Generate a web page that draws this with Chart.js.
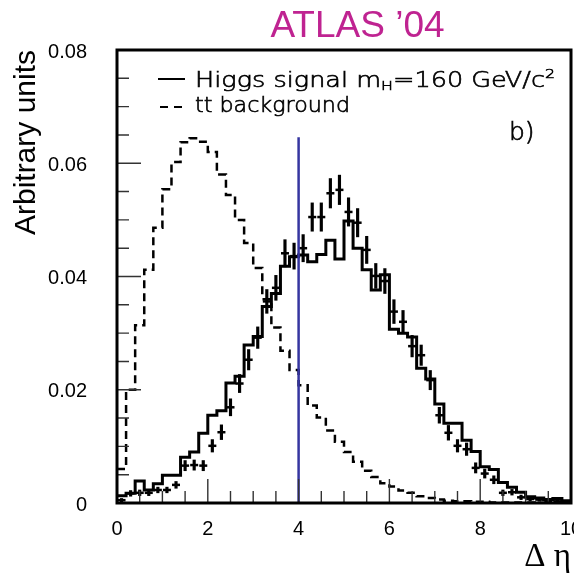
<!DOCTYPE html>
<html>
<head>
<meta charset="utf-8">
<script src="https://cdn.jsdelivr.net/npm/chart.js@4.4.1/dist/chart.umd.min.js"></script>
<style>
html, body { margin: 0; padding: 0; background: #fff; overflow: hidden; }
#wrap { width: 574px; height: 574px; overflow: hidden; }
canvas { display: block; }
</style>
</head>
<body>
<div id="wrap"><canvas id="c" width="600" height="574"></canvas></div>
<script>
// histogram bin edges in delta eta (50 bins of 0.2)
const binEdges = [0, 0.2, 0.4, 0.6, 0.8, 1, 1.2, 1.4, 1.6, 1.8, 2, 2.2, 2.4, 2.6, 2.8, 3, 3.2, 3.4, 3.6, 3.8,
  4, 4.2, 4.4, 4.6, 4.8, 5, 5.2, 5.4, 5.6, 5.8, 6, 6.2, 6.4, 6.6, 6.8, 7, 7.2, 7.4, 7.6, 7.8,
  8, 8.2, 8.4, 8.6, 8.8, 9, 9.2, 9.4, 9.6, 9.8, 10];

// Higgs signal, m_H = 160 GeV (solid histogram)
const signal = [0.0013, 0.0017, 0.0039, 0.0023, 0.0034, 0.0049, 0.0049, 0.0081, 0.0090, 0.0123,
  0.0155, 0.0163, 0.0212, 0.0224, 0.0279, 0.0294, 0.0347, 0.0370, 0.0418, 0.0435,
  0.0438, 0.0426, 0.0439, 0.0464, 0.0431, 0.0498, 0.0450, 0.0412, 0.0376, 0.0403,
  0.0307, 0.0300, 0.0293, 0.0238, 0.0219, 0.0175, 0.0141, 0.0141, 0.0111, 0.0091,
  0.0064, 0.0059, 0.0036, 0.0028, 0.0019, 0.0011, 0.0009, 0.0006, 0.0008, 0.0004];

// tt background (dashed histogram)
const background = [0.0060, 0.0200, 0.0314, 0.0412, 0.0486, 0.0554, 0.0602, 0.0637, 0.0644, 0.0638,
  0.0620, 0.0580, 0.0544, 0.0500, 0.0459, 0.0415, 0.0360, 0.0310, 0.0269, 0.0235,
  0.0208, 0.0172, 0.0151, 0.0128, 0.0108, 0.0090, 0.0073, 0.0057, 0.0046, 0.0035,
  0.0029, 0.0022, 0.0018, 0.0012, 0.0009, 0.0006, 0.0004, 0.0003, 0.0003, 0.0002,
  0.0002, 0.0001, 0.0001, 0.0001, 0.0001, 0.0001, 0.00005, 0, 0, 0];

// points with error bars, at bin centres
const binCentres = [0.1, 0.3, 0.5, 0.7, 0.9, 1.1, 1.3, 1.5, 1.7, 1.9, 2.1, 2.3, 2.5, 2.7, 2.9, 3.1, 3.3, 3.5, 3.7, 3.9,
  4.1, 4.3, 4.5, 4.7, 4.9, 5.1, 5.3, 5.5, 5.7, 5.9, 6.1, 6.3, 6.5, 6.7, 6.9, 7.1, 7.3, 7.5, 7.7, 7.9,
  8.1, 8.3, 8.5, 8.7, 8.9, 9.1, 9.3, 9.5, 9.7, 9.9];
const points = [0.0005, 0.0017, 0.0018, 0.0018, 0.0023, 0.0023, 0.0032, 0.0066, 0.0067, 0.0066,
  0.0101, 0.0125, 0.0169, 0.0211, 0.0253, 0.0292, 0.0356, 0.0380, 0.0441, 0.0436,
  0.0450, 0.0505, 0.0505, 0.0547, 0.0553, 0.0514, 0.0495, 0.0447, 0.0401, 0.0392,
  0.0338, 0.0320, 0.0277, 0.0261, 0.0217, 0.0155, 0.0124, 0.0101, 0.0095, 0.0062,
  0.0052, 0.0041, 0.0018, 0.0019, 0.0010, 0.0007, 0.0006, 0.0004, 0.0003, 0.0002];
const pointErr = [0.0003, 0.0005, 0.0005, 0.0005, 0.0005, 0.0005, 0.0006, 0.0009, 0.0009, 0.0009,
  0.0011, 0.0013, 0.0015, 0.0016, 0.0018, 0.0019, 0.0021, 0.0022, 0.0024, 0.0023,
  0.0024, 0.0025, 0.0025, 0.0026, 0.0026, 0.0025, 0.0025, 0.0024, 0.0022, 0.0022,
  0.0021, 0.0020, 0.0019, 0.0018, 0.0017, 0.0014, 0.0013, 0.0011, 0.0011, 0.0009,
  0.0008, 0.0007, 0.0005, 0.0005, 0.0004, 0.0003, 0.0003, 0.0002, 0.0002, 0.0002];

// cut line
const cutX = [4, 4];
const cutY = [0, 0.0646];

const xTicks = [0, 2, 4, 6, 8, 10];
const yTicks = [0, 0.02, 0.04, 0.06, 0.08];

const hist = vals => binEdges.map((e, i) => ({ x: e, y: vals[Math.min(i, vals.length - 1)] }));

const decor = {
  id: 'decor',
  afterDatasetsDraw(chart) {
    const { ctx, chartArea: a, scales: { x, y } } = chart;
    ctx.save();
    ctx.strokeStyle = '#333';
    ctx.lineWidth = 1.4;
    ctx.beginPath();
    for (let i = 0; i <= 20; i++) {
      const px = x.getPixelForValue(i * 0.5);
      const len = i % 4 === 0 ? 24 : 12;
      ctx.moveTo(px, a.bottom); ctx.lineTo(px, a.bottom - len);
    }
    for (let i = 0; i <= 16; i++) {
      const py = y.getPixelForValue(i * 0.005);
      const len = i % 4 === 0 ? 24 : 12;
      ctx.moveTo(a.left, py); ctx.lineTo(a.left + len, py);
    }
    ctx.stroke();
    ctx.restore();
  },
  afterDraw(chart) {
    const { ctx, chartArea: a } = chart;
    ctx.save();
    ctx.strokeStyle = '#000';
    ctx.lineWidth = 3;
    ctx.strokeRect(a.left, a.top, a.right - a.left, a.bottom - a.top);

    // title
    ctx.fillStyle = '#bf2391';
    ctx.font = '37px "Liberation Sans", Arial, sans-serif';
    ctx.textAlign = 'center';
    ctx.textBaseline = 'alphabetic';
    ctx.fillText('ATLAS \u201904', 357.5, 37);

    // legend
    ctx.fillStyle = '#000';
    ctx.strokeStyle = '#000';
    ctx.textAlign = 'left';
    const big = '200 21px "DejaVu Sans", sans-serif';
    const small = '200 13px "DejaVu Sans", sans-serif';
    const line1 = [
      { t: 'Higgs signal m', f: big, dy: 0 },
      { t: 'H', f: small, dy: 3 },
      { t: '=160 GeV/c', f: big, dy: 0 },
      { t: '2', f: small, dy: -9 }
    ];
    const line2 = [{ t: 'tt background', f: big, dy: 0 }];
    const drawRuns = (runs, x0, base, target) => {
      let w = 0;
      runs.forEach(r => { ctx.font = r.f; w += ctx.measureText(r.t).width; });
      ctx.save();
      ctx.translate(x0, base);
      ctx.scale(target / w, 1);
      ctx.lineWidth = 0.6;
      let cx = 0;
      runs.forEach(r => {
        ctx.font = r.f;
        ctx.fillText(r.t, cx, r.dy);
        ctx.strokeText(r.t, cx, r.dy);
        cx += ctx.measureText(r.t).width;
      });
      ctx.restore();
    };
    drawRuns(line1, 195, 87, 360);
    drawRuns(line2, 195, 112, 155);

    ctx.lineWidth = 2;
    ctx.beginPath();
    ctx.moveTo(158, 79); ctx.lineTo(185, 79);
    ctx.stroke();
    ctx.setLineDash([8, 6]);
    ctx.beginPath();
    ctx.moveTo(160, 107); ctx.lineTo(183, 107);
    ctx.stroke();
    ctx.setLineDash([]);

    ctx.font = '200 25px "DejaVu Sans", sans-serif';
    ctx.lineWidth = 0.7;
    ctx.fillText('b)', 509, 140);
    ctx.strokeText('b)', 509, 140);
    ctx.restore();
  }
};

new Chart(document.getElementById('c'), {
  type: 'line',
  data: {
    datasets: [
      {
        data: cutX.map((v, i) => ({ x: v, y: cutY[i] })),
        borderColor: '#3535a0',
        borderWidth: 2.5,
        pointRadius: 0
      },
      {
        data: hist(signal),
        stepped: true,
        borderColor: '#000',
        borderWidth: 3,
        borderJoinStyle: 'miter',
        pointRadius: 0
      },
      {
        data: hist(background),
        stepped: true,
        borderColor: '#000',
        borderWidth: 2.5,
        borderDash: [8, 5],
        pointRadius: 0
      },
      {
        type: 'scatter',
        data: binCentres.map((c, i) => ({ x: c, y: points[i] })),
        showLine: false,
        pointStyle: 'line',
        pointRadius: 4,
        pointBorderWidth: 2.5,
        pointBorderColor: '#000',
        pointBackgroundColor: '#000'
      },
      {
        type: 'bar',
        data: binCentres.map((c, i) => ({ x: c, y: [points[i] - pointErr[i], points[i] + pointErr[i]] })),
        backgroundColor: '#000',
        borderWidth: 0,
        barThickness: 2.5
      }
    ]
  },
  options: {
    responsive: false,
    animation: false,
    devicePixelRatio: 1,
    layout: { padding: { left: 0, top: 50, right: 29, bottom: 0 } },
    plugins: { legend: { display: false }, tooltip: { enabled: false } },
    scales: {
      x: {
        type: 'linear',
        min: 0,
        max: 10,
        offset: false,
        grid: { display: false, drawTicks: false },
        border: { display: false },
        afterBuildTicks: s => { s.ticks = xTicks.map(v => ({ value: v })); },
        ticks: {
          color: '#000',
          padding: 14,
          maxRotation: 0,
          autoSkip: false,
          font: { family: '"Liberation Sans", Arial, sans-serif', size: 20 }
        },
        title: {
          display: true,
          text: '\u0394 \u03b7',
          align: 'end',
          color: '#000',
          padding: { top: 0, bottom: 0 },
          font: { family: '"Liberation Serif", "Times New Roman", serif', size: 33, lineHeight: 1 }
        },
        afterFit: s => { s.height = 71; }
      },
      y: {
        min: 0,
        max: 0.08,
        grid: { display: false, drawTicks: false },
        border: { display: false },
        afterBuildTicks: s => { s.ticks = yTicks.map(v => ({ value: v })); },
        ticks: {
          color: '#000',
          padding: 30,
          labelOffset: 2,
          font: { family: '"Liberation Sans", Arial, sans-serif', size: 20 }
        },
        title: {
          display: true,
          text: 'Arbitrary units',
          align: 'end',
          color: '#000',
          padding: { top: 12, bottom: 0 },
          font: { family: '"Liberation Sans", Arial, sans-serif', size: 30, lineHeight: 1 }
        },
        afterFit: s => { s.width = 117; }
      }
    }
  },
  plugins: [decor]
});
</script>
</body>
</html>
